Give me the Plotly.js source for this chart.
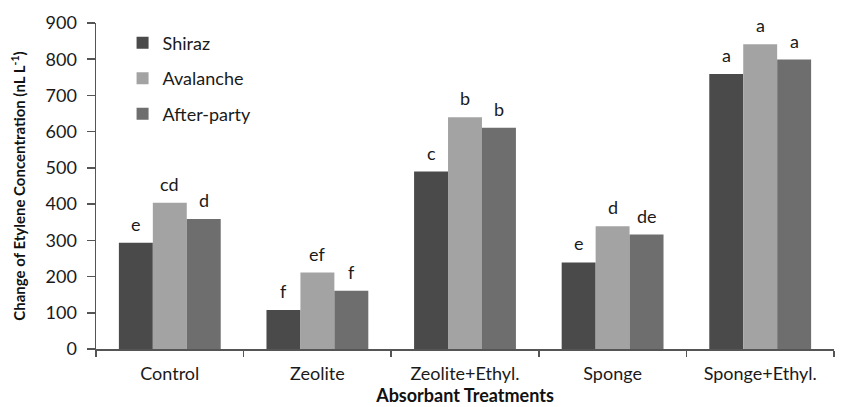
<!DOCTYPE html>
<html><head><meta charset="utf-8">
<script src="https://cdn.plot.ly/plotly-3.0.1.min.js"></script>
<style>body{margin:0;background:#fff}#c{width:853px;height:407px}</style>
</head><body><div id="c"></div>
<script>
const categories = ["Control","Zeolite","Zeolite+Ethyl.","Sponge","Sponge+Ethyl."];
const shiraz = [293,108,490,239,759];
const avalanche = [404,211,640,339,841];
const afterParty = [359,161,611,316,799];
const shirazLetters = ["e","f","c","e","a"];
const avalancheLetters = ["cd","ef","b","d","a"];
const afterPartyLetters = ["d","f","b","de","a"];
const yTicks = [0,100,200,300,400,500,600,700,800,900];

const font = "Lato, Open Sans, sans-serif";
const series = [
  {name:'Shiraz', y:shiraz, letters:shirazLetters, color:'#4a4a4a', shift:-34},
  {name:'Avalanche', y:avalanche, letters:avalancheLetters, color:'#a3a3a3', shift:0},
  {name:'After-party', y:afterParty, letters:afterPartyLetters, color:'#6e6e6e', shift:34}
];
const data = series.map((s,i)=>({type:'bar', name:s.name, x:categories, y:s.y,
  legendgroup:'g'+i, marker:{color:s.color}, hoverinfo:'none'}));
const annotations = [];
series.forEach(s=>{
  categories.forEach((c,j)=>{
    annotations.push({x:c, y:s.y[j], xref:'x', yref:'y', text:s.letters[j], showarrow:false,
      xanchor:'center', yanchor:'bottom', xshift:s.shift, yshift:6,
      font:{family:font,size:18,color:'#1a1a1a'}});
  });
});
const layout = {
  width:853, height:407, margin:{l:96,r:19,t:23,b:58},
  paper_bgcolor:'#fff', plot_bgcolor:'#fff',
  barmode:'group', bargap:0.31, bargroupgap:0,
  font:{family:font, color:'#1a1a1a'},
  showlegend:true, annotations:annotations,
  legend:{x:0.036, y:0.995, xanchor:'left', yanchor:'top', font:{family:font,size:18,color:'#1a1a1a'},
    itemwidth:30, tracegroupgap:9, bgcolor:'rgba(0,0,0,0)'},
  xaxis:{type:'category', showline:true, linecolor:'#555', linewidth:1.5,
    ticks:'outside', tickson:'boundaries', ticklen:6, tickcolor:'#555', tickwidth:1.5,
    tickfont:{family:font,size:18,color:'#1a1a1a'}, ticklabelstandoff:8,
    title:{text:'<b>Absorbant Treatments</b>', font:{family:font,size:18,color:'#111'}, standoff:3}},
  yaxis:{range:[0,900], tickvals:yTicks, showline:true, linecolor:'#555', linewidth:1.5,
    ticks:'outside', ticklen:8, tickcolor:'#555', tickwidth:1.5, showgrid:false, zeroline:false,
    tickfont:{family:font,size:18,color:'#1a1a1a'}, ticklabelstandoff:6,
    title:{text:'<b>Change of Etylene Concentration (nL L<sup>-1</sup>)</b>', font:{family:font,size:15,color:'#111'}, standoff:16}}
};
Plotly.newPlot('c', data, layout, {displayModeBar:false, staticPlot:true});
</script></body></html>
